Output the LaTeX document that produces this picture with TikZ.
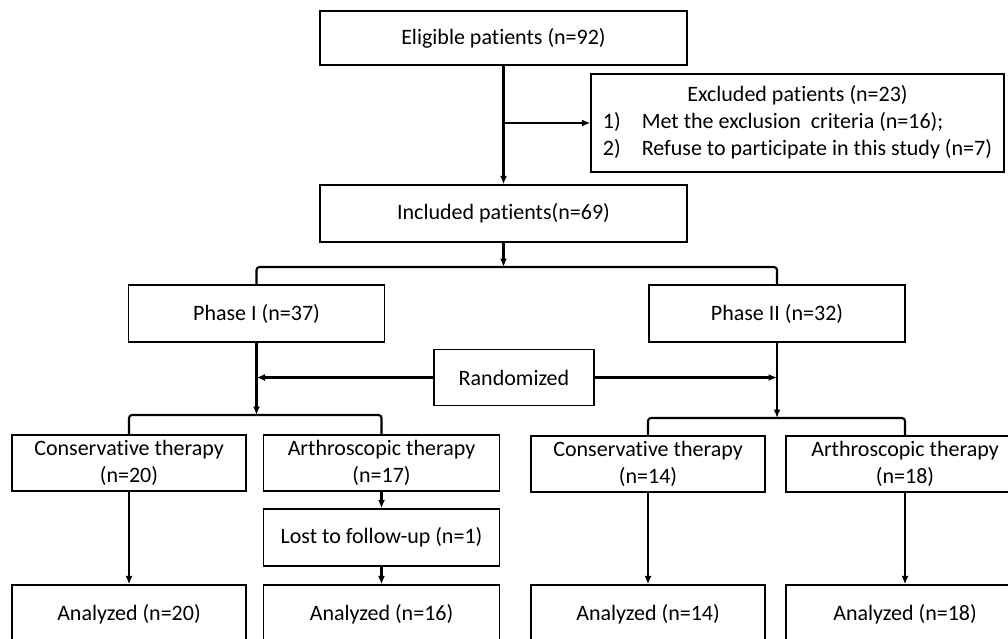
\documentclass[tikz,border=0pt]{standalone}
\usepackage{fontspec}
\setmainfont[Ligatures=CommonOff]{Carlito}
\usetikzlibrary{arrows.meta}

\begin{document}
\begin{tikzpicture}
[x=1pt,y=-1pt,
  boxdecorate/.style={shape=rectangle,draw,line width=1.3pt,inner sep=0pt,align=center,%
    font=\fontsize{22}{27}\selectfont},
  arrowdecorate/.style={-{Latex[length=8.5pt,width=7pt]},line width=2.1pt},
  forkdecorate/.style={-,line width=2.1pt,rounded corners=3pt}]
\useasboundingbox (0,0) rectangle (1008,639);
\clip (0,0) rectangle (1008,639);
% nodes or boxes
\node (elig) at (503.5,38) [boxdecorate,minimum width=367pt,minimum height=54pt] {Eligible patients (n=92)};
\node (excl) at (797.5,123) [boxdecorate,minimum width=413pt,minimum height=98pt]
  {\begin{tabular}{@{}l@{\hspace{21pt}}l@{}}
   \multicolumn{2}{c}{Excluded patients (n=23)}\\
   1) & Met the exclusion~ criteria (n=16);\\
   2) & Refuse to participate in this study (n=7)
   \end{tabular}};
\node (incl) at (503.5,213.5) [boxdecorate,minimum width=367pt,minimum height=57pt] {Included patients(n=69)};
\node (ph1) at (256.5,313.5) [boxdecorate,minimum width=256pt,minimum height=57pt] {Phase I (n=37)};
\node (ph2) at (777,313.5) [boxdecorate,minimum width=256pt,minimum height=57pt] {Phase II (n=32)};
\node (rand) at (514,377.5) [boxdecorate,minimum width=160pt,minimum height=56pt] {Randomized};
\node (cons1) at (129,463) [boxdecorate,minimum width=234pt,minimum height=56pt] {Conservative therapy\\(n=20)};
\node (arth1) at (381.5,463) [boxdecorate,minimum width=236pt,minimum height=56pt] {Arthroscopic therapy\\(n=17)};
\node (lost) at (381.5,537.5) [boxdecorate,minimum width=236pt,minimum height=57pt] {Lost to follow-up (n=1)};
\node (cons2) at (648,464) [boxdecorate,minimum width=234pt,minimum height=56pt] {Conservative therapy\\(n=14)};
\node (arth2) at (905,464) [boxdecorate,minimum width=238pt,minimum height=56pt] {Arthroscopic therapy\\(n=18)};
\node (ana1) at (129,614) [boxdecorate,minimum width=234pt,minimum height=58pt] {Analyzed (n=20)};
\node (ana2) at (381.5,614) [boxdecorate,minimum width=236pt,minimum height=58pt] {Analyzed (n=16)};
\node (ana3) at (648,614) [boxdecorate,minimum width=234pt,minimum height=58pt] {Analyzed (n=14)};
\node (ana4) at (905,614) [boxdecorate,minimum width=238pt,minimum height=58pt] {Analyzed (n=18)};
% joints on the lines
\coordinate (exclfork) at (503.5,123);
\coordinate (fork1) at (503.5,267);
\coordinate (fork2) at (256.5,415);
\coordinate (fork3) at (777,418);
\coordinate (randl) at (256.5,377.5);
\coordinate (randr) at (777,377.5);
% edges or lines
\path
(elig) edge[arrowdecorate] (incl)
(exclfork) edge[arrowdecorate] (excl.west)
(incl) edge[arrowdecorate] (fork1)
(ph1) edge[arrowdecorate] (fork2)
(ph2) edge[arrowdecorate] (fork3)
(rand) edge[arrowdecorate] (randl)
(rand) edge[arrowdecorate] (randr)
(cons1) edge[arrowdecorate] (ana1)
(arth1) edge[arrowdecorate] (lost)
(lost) edge[arrowdecorate] (ana2)
(cons2) edge[arrowdecorate] (ana3)
(arth2) edge[arrowdecorate] (ana4);
\draw[forkdecorate] (ph1.north) |- (fork1) -| (ph2.north);
\draw[forkdecorate] (cons1.north) |- (fork2) -| (arth1.north);
\draw[forkdecorate] (cons2.north) |- (fork3) -| (arth2.north);
\end{tikzpicture}
\end{document}
